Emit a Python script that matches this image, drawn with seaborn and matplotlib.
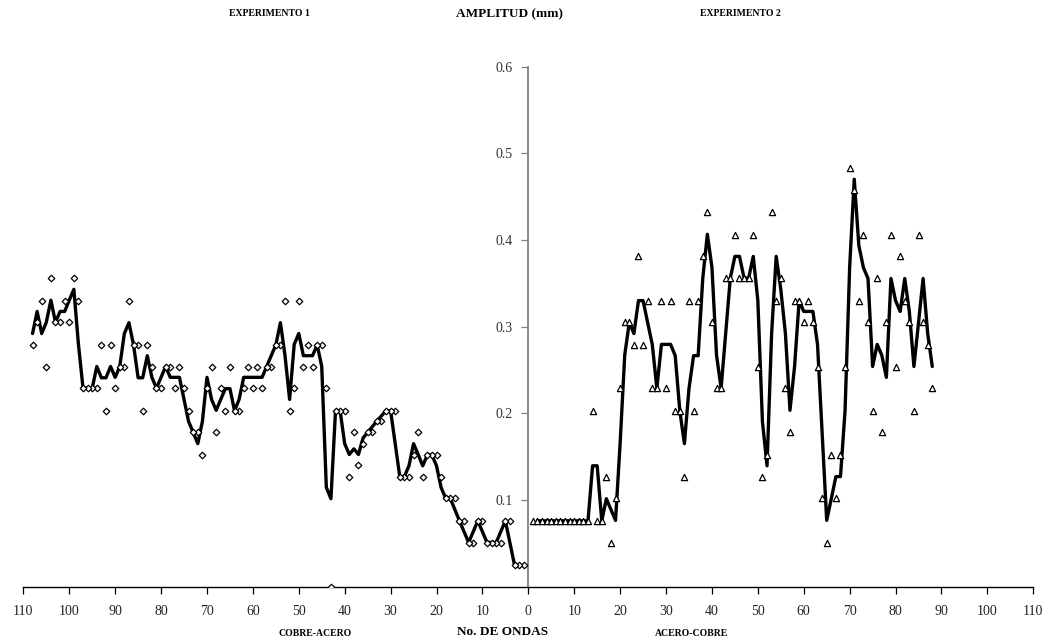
import numpy as np
import pandas as pd
import matplotlib
matplotlib.use("Agg")
import matplotlib.pyplot as plt
import seaborn as sns
from matplotlib.ticker import FuncFormatter

# Experimento 1 (cobre-acero): amplitud (mm) por número de onda
ondas_exp1 = list(range(1, 109))
amp_exp1 = [
    0.025, 0.025, 0.025, 0.076, 0.076, 0.051, 0.051, 0.051, 0.051, 0.076,
    0.076, 0.051, 0.051, 0.076, 0.076, 0.102, 0.102, 0.102, 0.127, 0.152,
    0.152, 0.152, 0.127, 0.178, 0.152, 0.127, 0.127, 0.127, 0.203, 0.203,
    0.203, 0.191, 0.191, 0.178, 0.178, 0.165, 0.140, 0.178, 0.127, 0.203,
    0.203, 0.203, 0.000, 0.229, 0.279, 0.279, 0.254, 0.279, 0.254, 0.330,
    0.229, 0.203, 0.330, 0.279, 0.279, 0.254, 0.254, 0.229, 0.254, 0.229,
    0.254, 0.229, 0.203, 0.203, 0.254, 0.203, 0.229, 0.178, 0.254, 0.229,
    0.152, 0.178, 0.178, 0.203, 0.229, 0.254, 0.229, 0.254, 0.254, 0.229,
    0.229, 0.254, 0.279, 0.203, 0.279, 0.279, 0.330, 0.254, 0.254, 0.229,
    0.279, 0.203, 0.279, 0.229, 0.229, 0.229, 0.229, 0.330, 0.356, 0.305,
    0.330, 0.305, 0.305, 0.356, 0.254, 0.330, 0.305, 0.279,
]

# Experimento 2 (acero-cobre): amplitud (mm) por número de onda
ondas_exp2 = list(range(1, 89))
amp_exp2 = [
    0.076, 0.076, 0.076, 0.076, 0.076, 0.076, 0.076, 0.076, 0.076, 0.076,
    0.076, 0.076, 0.076, 0.203, 0.076, 0.076, 0.127, 0.051, 0.102, 0.229,
    0.305, 0.305, 0.279, 0.381, 0.279, 0.330, 0.229, 0.229, 0.330, 0.229,
    0.330, 0.203, 0.203, 0.127, 0.330, 0.203, 0.330, 0.381, 0.432, 0.305,
    0.229, 0.229, 0.356, 0.356, 0.406, 0.356, 0.356, 0.356, 0.406, 0.254,
    0.127, 0.152, 0.432, 0.330, 0.356, 0.229, 0.178, 0.330, 0.330, 0.305,
    0.330, 0.305, 0.254, 0.102, 0.051, 0.152, 0.102, 0.152, 0.254, 0.483,
    0.457, 0.330, 0.406, 0.305, 0.203, 0.356, 0.178, 0.305, 0.406, 0.254,
    0.381, 0.330, 0.305, 0.203, 0.406, 0.305, 0.279, 0.229,
]

x_ticks = list(range(-110, 111, 10))
y_ticks = [0.1, 0.2, 0.3, 0.4, 0.5, 0.6]

exp1 = pd.DataFrame({"onda": ondas_exp1, "amp": amp_exp1})
exp1["pos"] = -exp1["onda"]
exp1["media"] = exp1["amp"].rolling(2).mean()

exp2 = pd.DataFrame({"onda": ondas_exp2, "amp": amp_exp2})
exp2["pos"] = exp2["onda"]
exp2["media"] = exp2["amp"].rolling(2).mean()

sns.set_theme(style="white")
plt.rcParams["font.family"] = ["Liberation Serif", "DejaVu Serif"]

fig = plt.figure(figsize=(10.52, 6.42), dpi=100)
ax = fig.add_axes([0.0222, 0.0861, 0.9600, 0.8103])

# moving average (period 2) lines
for df in (exp1, exp2):
    sns.lineplot(data=df.dropna(subset=["media"]), x="pos", y="media",
                 color="black", linewidth=2.4, sort=False, estimator=None,
                 ax=ax, zorder=2)

# raw measurements
sns.scatterplot(data=exp1, x="pos", y="amp", marker="D", s=11,
                facecolor="white", edgecolor="black", linewidth=0.9,
                ax=ax, zorder=3)
sns.scatterplot(data=exp2, x="pos", y="amp", marker="^", s=20,
                facecolor="white", edgecolor="black", linewidth=0.9,
                ax=ax, zorder=3)

ax.set_xlim(-110, 110)
ax.set_ylim(0, 0.6)
ax.set_xticks(x_ticks)
ax.xaxis.set_major_formatter(FuncFormatter(lambda v, p: f"{abs(int(round(v)))}"))
ax.set_yticks(y_ticks)
ax.yaxis.set_major_formatter(FuncFormatter(lambda v, p: f"{v:.1f}"))
ax.set_xlabel("")
ax.set_ylabel("")

for s in ("top", "right"):
    ax.spines[s].set_visible(False)
ax.spines["left"].set_position(("data", 0))
ax.spines["left"].set_color("#808080")
ax.spines["left"].set_linewidth(1.3)
ax.spines["bottom"].set_color("black")
ax.spines["bottom"].set_linewidth(1.0)

ax.tick_params(axis="x", direction="out", length=5, width=0.9, color="black",
               labelsize=10, labelcolor="#222222", pad=8, bottom=True)
ax.tick_params(axis="y", direction="out", length=5, width=0.9, color="#808080",
               labelsize=10, labelcolor="#333333", pad=6, left=True)
ax.grid(False)
ax.set_facecolor("white")
fig.patch.set_facecolor("white")

W, H = 1052, 642
def ftext(x, y, s, size):
    fig.text(x / W, 1 - y / H, s, ha="center", va="center",
             fontsize=size, fontweight="bold", color="black")

ftext(269, 14, "EXPERIMENTO 1", 7)
ftext(510, 14, "AMPLITUD (mm)", 9.5)
ftext(740, 14, "EXPERIMENTO 2", 7)
ftext(315, 634, "COBRE-ACERO", 7)
ftext(503, 632, "No. DE ONDAS", 9.5)
ftext(692, 634, "ACERO-COBRE", 7)

fig.savefig("out.png", dpi=100, facecolor="white")
